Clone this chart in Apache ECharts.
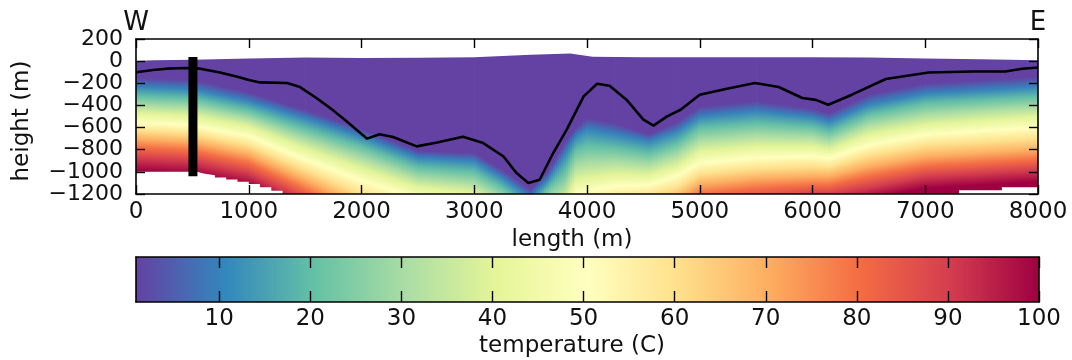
<!DOCTYPE html>
<html>
<head>
<meta charset="utf-8">
<script src="https://cdn.jsdelivr.net/npm/echarts@6.0.0/dist/echarts.min.js"></script>
<style>
html,body{margin:0;padding:0;background:#fff;}
#chart{width:1072px;height:360px;}
</style>
</head>
<body>
<div id="chart"></div>
<script>
// ---------------- data ----------------
// temperature field: depth (m) of isotherms at sampled lengths (m)
const FIELD_X = [0, 500, 1000, 1500, 2000, 2500, 3000, 3250, 3500, 3650, 3800, 3900, 4000, 4250, 4550, 4800, 5000, 5500, 6000, 6150, 6500, 7000, 7500, 8000];
const ISO_T1   = [-150, -165, -280, -440, -610, -810, -830, -980, -1160, -1000, -740, -600, -510, -560, -660, -550, -410, -360, -430, -470, -300, -200, -170, -140];
const ISO_T10  = [-230, -250, -360, -510, -680, -870, -900, -1050, -1230, -1070, -840, -680, -610, -660, -720, -630, -500, -450, -500, -545, -390, -290, -260, -230];
const ISO_T20  = [-315, -335, -440, -610, -770, -960, -1000, -1140, -1320, -1150, -1000, -800, -760, -780, -830, -740, -600, -560, -590, -635, -480, -380, -350, -320];
const ISO_T30  = [-395, -415, -515, -700, -870, -1050, -1100, -1230, -1410, -1240, -1150, -940, -910, -900, -930, -840, -710, -665, -680, -720, -570, -480, -440, -410];
const ISO_T40  = [-470, -495, -590, -790, -970, -1140, -1190, -1320, -1500, -1330, -1290, -1080, -1060, -1020, -1030, -950, -815, -770, -770, -800, -660, -575, -535, -500];
const ISO_T50  = [-555, -580, -680, -890, -1080, -1240, -1290, -1420, -1600, -1430, -1420, -1200, -1180, -1130, -1120, -1040, -920, -875, -860, -880, -760, -665, -630, -600];
const ISO_T60  = [-625, -655, -760, -980, -1200, -1340, -1390, -1520, -1700, -1530, -1540, -1320, -1300, -1240, -1210, -1140, -1020, -970, -950, -960, -850, -760, -730, -700];
const ISO_T70  = [-700, -730, -840, -1070, -1310, -1440, -1490, -1620, -1800, -1630, -1660, -1440, -1420, -1350, -1300, -1240, -1110, -1060, -1040, -1040, -950, -860, -830, -800];
const ISO_T80  = [-780, -810, -920, -1160, -1420, -1540, -1590, -1720, -1900, -1730, -1780, -1560, -1540, -1460, -1390, -1340, -1200, -1150, -1120, -1120, -1040, -950, -920, -890];
const ISO_T90  = [-870, -900, -1010, -1250, -1530, -1640, -1690, -1820, -2000, -1830, -1900, -1680, -1660, -1570, -1480, -1440, -1300, -1250, -1200, -1200, -1140, -1040, -1010, -980];
const ISO_T100 = [-990, -1020, -1120, -1350, -1650, -1740, -1790, -1920, -2100, -1930, -2020, -1800, -1780, -1680, -1570, -1540, -1400, -1350, -1290, -1290, -1240, -1150, -1120, -1090];
const ISO_TEMPS = [1, 10, 20, 30, 40, 50, 60, 70, 80, 90, 100];

// ground surface (top of model) and bottom of model
const SURF_X = [0, 150, 500, 1000, 1500, 2000, 2500, 3000, 3500, 3850, 4050, 4500, 5000, 6000, 6500, 7000, 7500, 8000];
const SURF_Y = [2, 7, 12, 25, 34, 28, 30, 36, 58, 70, 40, 35, 35, 35, 33, 24, 18, 8];
const BOT_X = [0, 540, 600, 700, 800, 900, 1000, 1100, 1200, 1300, 7300, 7680, 8000];
const BOT_Y = [-1000, -1015, -1030, -1050, -1070, -1090, -1110, -1140, -1170, -1200, -1167, -1140, -1140];

// black profile line
const LINE_X = [0, 150, 270, 440, 570, 745, 900, 1000, 1100, 1340, 1455, 1600, 1750, 1870, 1990, 2050, 2160, 2280, 2490, 2670, 2900, 3080, 3260, 3375, 3480, 3580, 3700, 3820, 3970, 4090, 4200, 4350, 4500, 4590, 4710, 4830, 5000, 5230, 5490, 5700, 5910, 6030, 6140, 6350, 6650, 7030, 7420, 7710, 7860, 8000];
const LINE_Y = [-100, -80, -68, -62, -68, -102, -140, -170, -192, -198, -234, -333, -445, -545, -649, -700, -660, -685, -770, -734, -682, -740, -861, -1011, -1101, -1071, -830, -619, -318, -204, -222, -348, -529, -583, -499, -439, -303, -252, -198, -234, -333, -350, -394, -303, -161, -102, -93, -93, -68, -57];

// borehole bar
const BAR_X = [505, 505];
const BAR_Y = [37, -1040];

// colorbar
const CB_MIN = 0.86, CB_MAX = 100;
const CB_TICKS = [10, 20, 30, 40, 50, 60, 70, 80, 90, 100];

// ---------------- style ----------------
const SPECTRAL_R = ['#6441a4','#3288bd','#66c2a5','#abdda4','#e6f598','#ffffbf','#fee08b','#fdae61','#f46d43','#d53e4f','#9e0142'];
const FONT = 'DejaVu Sans';
const TXT = '#111';
const FS = 23;

function hex2rgb(h){ return [parseInt(h.substr(1,2),16),parseInt(h.substr(3,2),16),parseInt(h.substr(5,2),16)]; }
const CM_RGB = SPECTRAL_R.map(hex2rgb);
function cmap(t){
  let f = (t - CB_MIN) / (CB_MAX - CB_MIN);
  f = Math.max(0, Math.min(1, f));
  const p = f * (CM_RGB.length - 1);
  const i = Math.min(Math.floor(p), CM_RGB.length - 2);
  const u = p - i;
  const a = CM_RGB[i], b = CM_RGB[i+1];
  return 'rgb(' + [0,1,2].map(k => Math.round(a[k] + (b[k]-a[k])*u)).join(',') + ')';
}

const ISO = [ISO_T1, ISO_T10, ISO_T20, ISO_T30, ISO_T40, ISO_T50, ISO_T60, ISO_T70, ISO_T80, ISO_T90, ISO_T100];
const ISO_COLORS = ISO_TEMPS.map(cmap);

function renderField(params, api){
  const i = params.dataIndex;
  if (i >= FIELD_X.length - 1) return null;
  const cs = params.coordSys;
  const xa = api.coord([FIELD_X[i], 0])[0];
  const xb = api.coord([FIELD_X[i+1], 0])[0];
  const children = [];
  const step = 2;
  for (let px = Math.floor(xa); px < xb; px += step) {
    const left = Math.max(px, xa), right = Math.min(px + step, xb);
    if (right <= left) continue;
    const f = ((left + right) / 2 - xa) / (xb - xa);
    const ys = ISO.map(arr => api.coord([0, arr[i] + f * (arr[i+1] - arr[i])])[1]);
    const y0 = ys[0], yN = ys[ys.length - 1];
    const stops = ys.map((y, k) => ({offset: Math.max(0, Math.min(1, (y - y0) / (yN - y0))), color: ISO_COLORS[k]}));
    children.push({
      type: 'rect', silent: true,
      shape: {x: left, y: cs.y, width: right - left + 0.7, height: cs.height},
      style: {fill: {type: 'linear', x: 0, y: y0, x2: 0, y2: yN, global: true, colorStops: stops}}
    });
  }
  return {type: 'group', children};
}

function renderColorbar(params, api){
  const p0 = api.coord([CB_MIN, 0]);
  const p1 = api.coord([CB_MAX, 1]);
  const stops = SPECTRAL_R.map((c, k) => ({offset: k / (SPECTRAL_R.length - 1), color: c}));
  return {
    type: 'rect', silent: true,
    shape: {x: p0[0], y: p1[1], width: p1[0] - p0[0], height: p0[1] - p1[1]},
    style: {fill: {type: 'linear', x: p0[0], y: 0, x2: p1[0], y2: 0, global: true, colorStops: stops}}
  };
}

const minusFmt = v => (v < 0 ? '\u2212' + Math.abs(v) : String(v));
const plainFmt = v => String(v);
const frameLine = {show: true, onZero: false, lineStyle: {color: '#000', width: 1.6}};
const tickIn = (len) => ({show: true, inside: true, length: len, lineStyle: {color: '#000', width: 1.4}});
const lab = (margin, fmt, fs) => ({color: TXT, fontSize: fs || FS, fontFamily: FONT, margin: margin, formatter: fmt,
  showMinLabel: true, showMaxLabel: true, hideOverlap: false});

const chart = echarts.init(document.getElementById('chart'), null, {renderer: 'canvas'});
chart.setOption({
  animation: false,
  backgroundColor: '#fff',
  grid: [
    {left: 136, right: 34, top: 39, height: 155},
    {left: 136, right: 33, top: 257, height: 45}
  ],
  xAxis: [
    {gridIndex: 0, type: 'value', min: 0, max: 8000, interval: 1000, position: 'bottom', z: 10,
     axisLine: frameLine, axisTick: tickIn(9), axisLabel: lab(7, plainFmt), splitLine: {show: false}},
    {gridIndex: 0, type: 'value', min: 0, max: 8000, interval: 1000, position: 'top', z: 10,
     axisLine: frameLine, axisTick: tickIn(9), axisLabel: {show: false}, splitLine: {show: false}},
    {gridIndex: 1, type: 'value', min: CB_MIN, max: CB_MAX, position: 'bottom', z: 10,
     axisLine: frameLine,
     axisTick: Object.assign(tickIn(11), {customValues: CB_TICKS}),
     axisLabel: Object.assign(lab(6, plainFmt), {customValues: CB_TICKS}), splitLine: {show: false}},
    {gridIndex: 1, type: 'value', min: CB_MIN, max: CB_MAX, position: 'top', z: 10,
     axisLine: frameLine,
     axisTick: Object.assign(tickIn(11), {customValues: CB_TICKS}),
     axisLabel: {show: false}, splitLine: {show: false}}
  ],
  yAxis: [
    {gridIndex: 0, type: 'value', min: -1200, max: 200, interval: 200, position: 'left', z: 10,
     axisLine: frameLine, axisTick: tickIn(9),
     axisLabel: Object.assign(lab(13, minusFmt, 22), {lineHeight: 18, interval: 0}), splitLine: {show: false}},
    {gridIndex: 0, type: 'value', min: -1200, max: 200, interval: 200, position: 'right', z: 10,
     axisLine: frameLine, axisTick: tickIn(9), axisLabel: {show: false}, splitLine: {show: false}},
    {gridIndex: 1, type: 'value', min: 0, max: 1, position: 'left', z: 10,
     axisLine: frameLine, axisTick: {show: false}, axisLabel: {show: false}, splitLine: {show: false}},
    {gridIndex: 1, type: 'value', min: 0, max: 1, position: 'right', z: 10,
     axisLine: frameLine, axisTick: {show: false}, axisLabel: {show: false}, splitLine: {show: false}}
  ],
  series: [
    {type: 'custom', name: 'temperature', xAxisIndex: 0, yAxisIndex: 0, z: 1, clip: true,
     renderItem: renderField, data: FIELD_X.map((x, i) => [x, ISO_T1[i]]), silent: true},
    {type: 'line', name: 'surface mask', xAxisIndex: 0, yAxisIndex: 0, z: 2, silent: true,
     data: SURF_X.map((x, i) => [x, SURF_Y[i]]), showSymbol: false, symbol: 'none',
     lineStyle: {width: 0}, areaStyle: {color: '#fff', opacity: 1, origin: 'end'}},
    {type: 'line', name: 'bottom mask', xAxisIndex: 0, yAxisIndex: 0, z: 2, silent: true, step: 'end',
     data: BOT_X.map((x, i) => [x, BOT_Y[i]]), showSymbol: false, symbol: 'none',
     lineStyle: {width: 0}, areaStyle: {color: '#fff', opacity: 1, origin: 'start'}},
    {type: 'line', name: 'profile', xAxisIndex: 0, yAxisIndex: 0, z: 3, silent: true,
     data: LINE_X.map((x, i) => [x, LINE_Y[i]]), showSymbol: false, symbol: 'none',
     lineStyle: {color: '#000', width: 2.6}},
    {type: 'line', name: 'borehole', xAxisIndex: 0, yAxisIndex: 0, z: 4, silent: true,
     data: BAR_X.map((x, i) => [x, BAR_Y[i]]), showSymbol: false, symbol: 'none',
     lineStyle: {color: '#000', width: 9, cap: 'butt'}},
    {type: 'custom', name: 'colorbar', xAxisIndex: 2, yAxisIndex: 2, z: 1, silent: true,
     renderItem: renderColorbar, data: [[CB_MIN, 0]]}
  ],
  graphic: [
    {type: 'text', x: 136, y: 23, silent: true,
     style: {text: 'W', fontSize: 26, fontFamily: FONT, fill: TXT, align: 'center', verticalAlign: 'middle', textAlign: 'center', textVerticalAlign: 'middle'}},
    {type: 'text', x: 1038, y: 23, silent: true,
     style: {text: 'E', fontSize: 26, fontFamily: FONT, fill: TXT, align: 'center', verticalAlign: 'middle', textAlign: 'center', textVerticalAlign: 'middle'}},
    {type: 'text', x: 572, y: 240, silent: true,
     style: {text: 'length (m)', fontSize: FS, fontFamily: FONT, fill: TXT, align: 'center', verticalAlign: 'middle', textAlign: 'center', textVerticalAlign: 'middle'}},
    {type: 'text', x: 22, y: 121, rotation: Math.PI / 2, silent: true,
     style: {text: 'height (m)', fontSize: FS, fontFamily: FONT, fill: TXT, align: 'center', verticalAlign: 'middle', textAlign: 'center', textVerticalAlign: 'middle'}},
    {type: 'text', x: 572, y: 346, silent: true,
     style: {text: 'temperature (C)', fontSize: FS, fontFamily: FONT, fill: TXT, align: 'center', verticalAlign: 'middle', textAlign: 'center', textVerticalAlign: 'middle'}}
  ]
});
</script>
</body>
</html>
